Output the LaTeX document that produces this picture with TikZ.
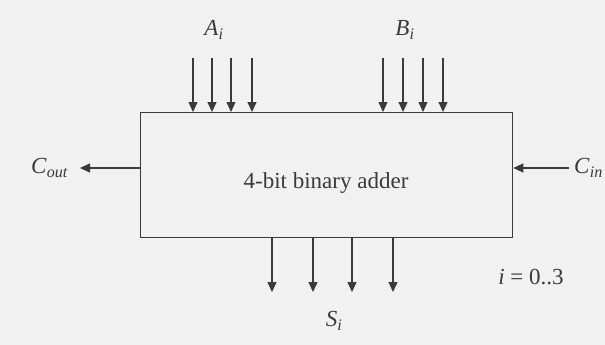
\documentclass[tikz,border=0pt]{standalone}
\usepackage{fontspec}
\setmainfont{Liberation Serif}
\usetikzlibrary{arrows.meta}
\definecolor{ink}{HTML}{3A3A3A}
\definecolor{paper}{HTML}{F1F1F1}
\tikzset{
  wire/.style={draw=ink, line width=1.3pt, -{Triangle[length=10pt,width=9pt]}},
  lbl/.style={text=ink, font=\fontsize{23}{27}\selectfont, inner sep=0pt},
  adder/.style={draw=ink, line width=1.3pt, minimum width=372pt, minimum height=125pt, inner sep=0pt}
}
\begin{document}
\begin{tikzpicture}[x=1pt,y=-1pt]
\fill[paper] (0,0) rectangle (605,345);
\useasboundingbox (0,0) rectangle (605,345);
\node[adder, anchor=north west] (box) at (140,112) {};
\node[lbl] (title) at (326,183) {4-bit binary adder};
\foreach \x [count=\k] in {193,212,231,252}{
  \coordinate (a\k) at (\x,58);
  \coordinate (ae\k) at (\x,112);
  \draw[wire] (a\k) -- (ae\k);
}
\foreach \x [count=\k] in {383,403,423,443}{
  \coordinate (b\k) at (\x,58);
  \coordinate (be\k) at (\x,112);
  \draw[wire] (b\k) -- (be\k);
}
\foreach \x [count=\k] in {272,313,352,393}{
  \coordinate (s\k) at (\x,237);
  \coordinate (se\k) at (\x,292);
  \draw[wire] (s\k) -- (se\k);
}
\node[lbl] (A) at (214,30) {\textit{A}\textsubscript{\textit{i}}};
\node[lbl] (B) at (405,30) {\textit{B}\textsubscript{\textit{i}}};
\node[lbl] (S) at (334,321) {\textit{S}\textsubscript{\textit{i}}};
\node[lbl, anchor=west] (cout) at (31,168) {\textit{C}\textsubscript{\textit{out}}};
\node[lbl, anchor=east] (cin) at (603,168) {\textit{C}\textsubscript{\textit{in}}};
\coordinate (coutend) at (80,168);
\coordinate (cinstart) at (569,168);
\draw[wire] (box.west |- coutend) -- (coutend);
\draw[wire] (cinstart) -- (box.east |- cinstart);
\node[lbl] (range) at (531,277) {\textit{i} = 0..3};
\end{tikzpicture}
\end{document}
